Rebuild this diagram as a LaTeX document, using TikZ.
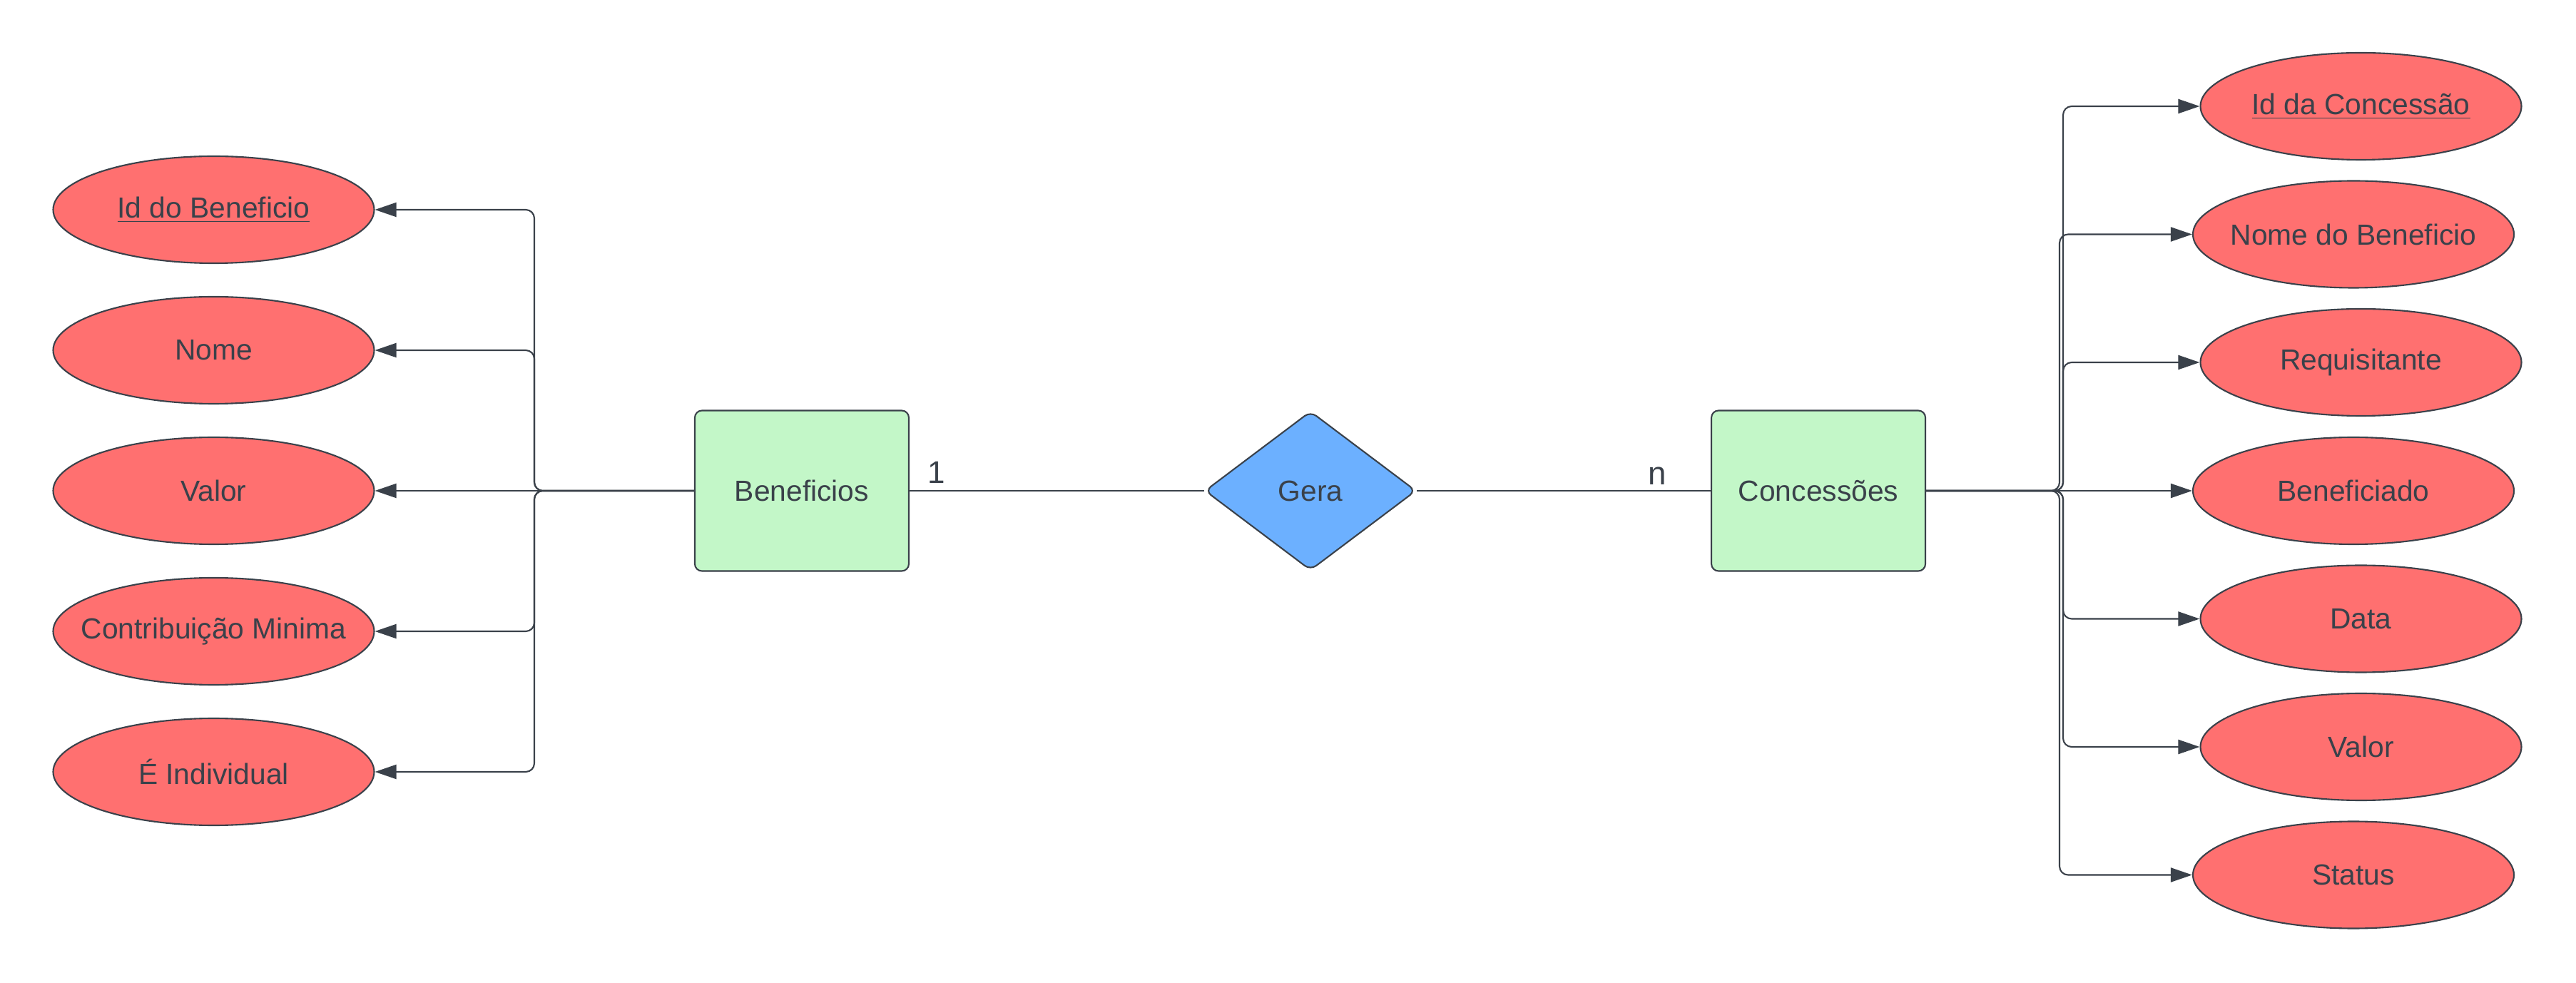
\documentclass[tikz,border=0pt]{standalone}
\usepackage{fontspec}
\setsansfont{Liberation Sans}
\usetikzlibrary{arrows.meta, positioning, calc, shapes.geometric}
\definecolor{ink}{HTML}{3A414A}
\definecolor{attrfill}{HTML}{FF7070}
\definecolor{entfill}{HTML}{C3F7C8}
\definecolor{relfill}{HTML}{6CB0FF}
\tikzset{
  font=\sffamily\fontsize{11.6}{14}\selectfont,
  >={Triangle[length=3mm, width=2mm]},
  %
  ent/.style={
    draw=ink, line width=0.6pt, fill=entfill, rounded corners=1mm,
    text=ink, minimum width=30mm, minimum height=22.5mm, inner sep=0pt,
  },
  rel/.style={
    draw=ink, line width=0.6pt, fill=relfill, diamond, rounded corners=1mm,
    text=ink, minimum width=29.6mm, minimum height=22.3mm, inner sep=0pt,
  },
  attr/.style={
    draw=ink, line width=0.6pt, fill=attrfill, ellipse, text=ink,
    minimum width=45mm, minimum height=15mm, inner xsep=-5mm, inner ysep=0pt,
  },
  %
  link/.style={draw=ink, line width=0.6pt, rounded corners=1.2mm},
  flow/.style={link, ->},
  card/.style={text=ink, inner sep=0pt, anchor=base},
}

\begin{document}
\begin{tikzpicture}[x=1cm, y=1cm]
\useasboundingbox (0,0) rectangle (36.11,-13.78);

% ---------------------------------------------------------------- relation
\node[ent] (ben) at (11.24,-6.88) {Beneficios};
\node[rel] (gera) at (18.37,-6.88) {Gera};
\node[ent] (conc) at (25.49,-6.88) {Concessões};

\draw[link] (ben) -- (gera);
\draw[link] (gera) -- (conc);
\node[card, font=\sffamily\fontsize{12.5}{15}\selectfont] (one)
  at ($(ben.east)+(0.38,0.10)$) {1};
\node[card, font=\sffamily\fontsize{13}{15}\selectfont] (many)
  at ($(conc.west)+(-0.75,0.08)$) {n};

% ---------------------------------------------------------------- beneficios
\node[attr] (bId)      at (2.995,-2.94)  {\underline{Id do Beneficio}};
\node[attr] (bNome)    at (2.995,-4.91)  {Nome};
\node[attr] (bValor)   at (2.995,-6.88)  {Valor};
\node[attr] (bContrib) at (2.995,-8.85)  {Contribuição Minima};
\node[attr] (bIndiv)   at (2.995,-10.82) {É Individual};

\coordinate (lj) at (7.49,-6.88);
\foreach \a in {bId,bNome,bContrib,bIndiv} { \draw[flow] (ben.west) -- (lj) |- (\a.east); }
\draw[flow] (ben.west) -- (bValor.east);

% ---------------------------------------------------------------- concessoes
\node[attr] (cId)     at (33.095,-1.49)  {\underline{Id da Concessão}};
\node[attr] (cNome)   at (32.99,-3.285)  {Nome do Beneficio};
\node[attr] (cReq)    at (33.095,-5.08)  {Requisitante};
\node[attr] (cBenef)  at (32.99,-6.88)   {Beneficiado};
\node[attr] (cData)   at (33.095,-8.675) {Data};
\node[attr] (cValor)  at (33.095,-10.47) {Valor};
\node[attr] (cStatus) at (32.99,-12.265) {Status};

\coordinate (rja) at (28.92,-6.88);
\coordinate (rjb) at (28.87,-6.88);
\foreach \a in {cId,cReq,cData,cValor} { \draw[flow] (conc.east) -- (rja) |- (\a.west); }
\foreach \a in {cNome,cStatus} { \draw[flow] (conc.east) -- (rjb) |- (\a.west); }
\draw[flow] (conc.east) -- (cBenef.west);

\end{tikzpicture}
\end{document}
